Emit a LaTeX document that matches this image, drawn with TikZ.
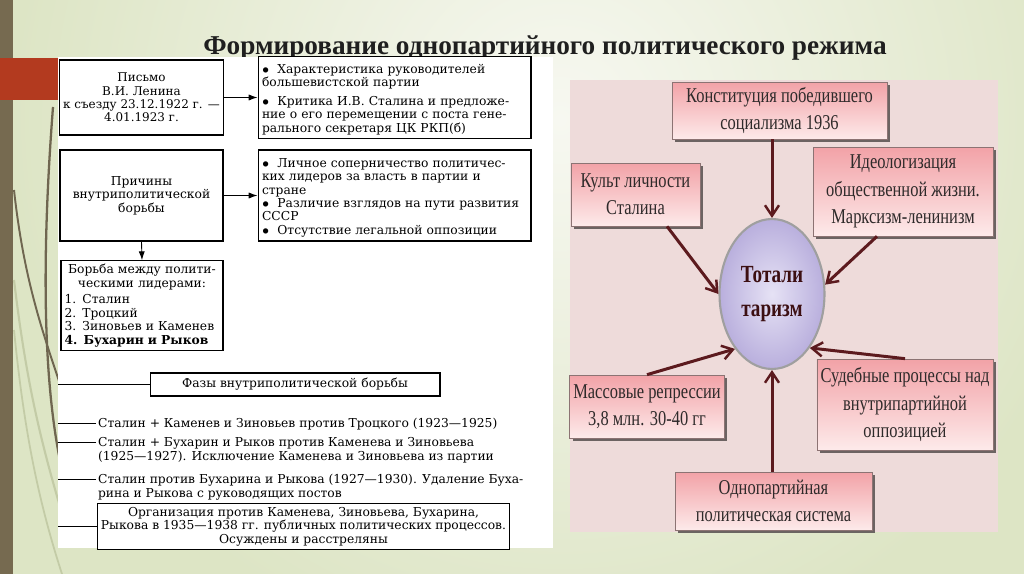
\documentclass[tikz,border=0pt]{standalone}
\usepackage{fontspec}
\setmainfont{Liberation Serif}
\newfontfamily\scanfont{DejaVu Serif}
\newfontfamily\slimfont[FakeStretch=0.78]{Liberation Serif}
\usetikzlibrary{arrows.meta, positioning, shapes.geometric, shadows}

\definecolor{bgbase}{HTML}{DDE5C5}
\definecolor{bglight}{HTML}{F7F8F1}
\definecolor{barbrown}{HTML}{766A50}
\definecolor{barred}{HTML}{B33A1F}
\definecolor{grassdark}{HTML}{6F6650}
\definecolor{grasslight}{HTML}{C3CBA6}
\definecolor{boardpink}{HTML}{EEDBDA}
\definecolor{boxtop}{HTML}{F2A2A7}
\definecolor{boxbottom}{HTML}{FDEAEA}
\definecolor{boxedge}{HTML}{8C7373}
\definecolor{shadowgray}{HTML}{5E5656}
\definecolor{textgray}{HTML}{2E2A2A}
\definecolor{arrowred}{HTML}{5C1A1E}
\definecolor{ovalinner}{HTML}{E6E2F5}
\definecolor{ovalouter}{HTML}{B9AFDD}
\definecolor{ovaltext}{HTML}{3C0F12}

\newcommand{\bitem}[2][0pt]{\par\vspace{#1}\noindent\hangindent=1.25em\hangafter=1%
  \makebox[1.25em][l]{$\bullet$}#2}

\begin{document}
\begin{tikzpicture}[
    x=0.02cm, y=-0.02cm,
    >=Latex,
    scanbox/.style={
        draw,
        line width=0.6pt,
        fill=white,
        inner sep=2pt,
        font=\scanfont\fontsize{7}{7.6}\selectfont
    },
    phasetext/.style={
        anchor=north west,
        align=left,
        inner sep=1pt,
        font=\scanfont\fontsize{7}{8}\selectfont
    },
    pinkbox/.style={
        draw=boxedge,
        line width=0.4pt,
        top color=boxtop,
        bottom color=boxbottom,
        align=center,
        inner sep=2pt,
        text=textgray,
        font=\slimfont\fontsize{12}{15.5}\selectfont,
        drop shadow={shadow xshift=1.8pt, shadow yshift=-1.8pt, fill=shadowgray, opacity=0.9}
    },
    arrow/.style={-{Latex[length=5pt, width=3.5pt]}, line width=0.5pt},
    rail/.style={line width=0.6pt},
    bigarrow/.style={-{Straight Barb[length=6pt, width=8pt, line width=1.4pt]}, line width=1.7pt, draw=arrowred}
]
\useasboundingbox (0,0) rectangle (1024,574);

% slide background
\begin{scope}
\clip (0,0) rectangle (1024,574);
\fill[bgbase] (0,0) rectangle (1024,574);
\shade[inner color=bglight, outer color=bgbase] (560,120) circle[radius=11cm];
\end{scope}
\fill[barbrown] (0,0) rectangle (13,574);
\draw[grasslight, line width=1.2pt] (14,280) .. controls (26,380) and (40,440) .. (64,520);
\draw[grasslight, line width=1pt] (14,330) .. controls (24,430) and (38,500) .. (62,574);
\draw[grassdark, line width=1.3pt] (53,107) .. controls (42,250) and (42,380) .. (62,470);
\draw[grassdark, line width=1.1pt] (14,190) .. controls (24,280) and (42,330) .. (62,390);
\fill[barred] (0,58) rectangle (113,100);

\node[font=\bfseries\fontsize{15.5}{17}\selectfont, text=black!88] (title) at (545,48)
    {Формирование однопартийного политического режима};

% left scheme
\node[fill=white, inner sep=0pt, anchor=north west, minimum width=9.9cm, minimum height=9.82cm] (scan) at (58,57) {};

\node[scanbox, minimum width=3.26cm, minimum height=1.5cm, align=center,
      font=\scanfont\fontsize{6.8}{7.6}\selectfont] (letter) at (141.5,97.5)
    {Письмо\\В.И. Ленина\\к съезду 23.12.1922 г. —\\4.01.1923 г.};
\node[scanbox, minimum width=5.46cm, minimum height=1.5cm, text width=5.3cm, align=left] (letterpts) at (394.5,97.5)
    {\bitem{Характеристика руководителей\\большевистской партии}%
     \bitem[3pt]{Критика И.В. Сталина и предложе-\\ние о его перемещении с поста гене-\\рального секретаря ЦК РКП(б)}};

\node[scanbox, minimum width=3.26cm, minimum height=1.82cm, align=center] (causes) at (141.5,195.5)
    {Причины\\внутриполитической\\борьбы};
\node[scanbox, minimum width=5.46cm, minimum height=1.82cm, text width=5.3cm, align=left] (causepts) at (394.5,195.5)
    {\bitem{Личное соперничество политичес-\\ких лидеров за власть в партии и\\стране}%
     \bitem{Различие взглядов на пути развития\\СССР}%
     \bitem{Отсутствие легальной оппозиции}};

\node[scanbox, minimum width=3.2cm, minimum height=1.7cm, text width=3.1cm, align=left] (rivals) at (142,305.5)
    {{\centering Борьба между полити-\\ческими лидерами:\par}\vspace{2pt}%
     1. Сталин\\2. Троцкий\\3. Зиновьев и Каменев\\\textbf{4. Бухарин и Рыков}};

\draw[arrow] (letter.east) -- (letterpts.west);
\draw[arrow] (causes.east) -- (causepts.west);
\draw[arrow] (causes.south) -- (rivals.north);

\node[scanbox, minimum width=5.8cm, minimum height=0.46cm] (phases) at (295,384.5)
    {Фазы внутриполитической борьбы};
\node[phasetext] (phaseA) at (96,416)
    {Сталин + Каменев и Зиновьев против Троцкого (1923—1925)};
\node[phasetext] (phaseB) at (96,435)
    {Сталин + Бухарин и Рыков против Каменева и Зиновьева\\(1925—1927). Исключение Каменева и Зиновьева из партии};
\node[phasetext] (phaseC) at (96,472)
    {Сталин против Бухарина и Рыкова (1927—1930). Удаление Буха-\\рина и Рыкова с руководящих постов};
\node[scanbox, minimum width=8.26cm, minimum height=0.86cm, align=center] (trials) at (303.5,526.5)
    {Организация против Каменева, Зиновьева, Бухарина,\\Рыкова в 1935—1938 гг. публичных политических процессов.\\Осуждены и расстреляны};

\draw[rail] (phases.west) -- (phases.west -| scan.west);
\draw[rail] ([yshift=-4pt]phaseA.north west) -- ([yshift=-4pt]phaseA.north west -| scan.west);
\draw[rail] ([yshift=-4pt]phaseB.north west) -- ([yshift=-4pt]phaseB.north west -| scan.west);
\draw[rail] ([yshift=-4pt]phaseC.north west) -- ([yshift=-4pt]phaseC.north west -| scan.west);
\draw[rail] (trials.west) -- (trials.west -| scan.west);

% right scheme
\node[fill=boardpink, inner sep=0pt, anchor=north west, minimum width=8.56cm, minimum height=9.04cm] (board) at (570,80) {};

\node[pinkbox, minimum width=4.3cm, minimum height=1.14cm] (konst) at (779.5,110.5)
    {Конституция победившего\\социализма 1936};
\node[pinkbox, minimum width=2.58cm, minimum height=1.26cm] (kult) at (635.5,194.5)
    {Культ личности\\Сталина};
\node[pinkbox, minimum width=3.6cm, minimum height=1.78cm] (ideol) at (903,191.5)
    {Идеологизация\\общественной жизни.\\Марксизм-ленинизм};
\node[pinkbox, minimum width=3.04cm, minimum height=1.26cm] (mass) at (647,406.5)
    {Массовые репрессии\\3,8 млн. 30-40 гг};
\node[pinkbox, minimum width=3.52cm, minimum height=1.82cm] (sud) at (905,404.5)
    {Судебные процессы над\\внутрипартийной\\оппозицией};
\node[pinkbox, minimum width=3.94cm, minimum height=1.16cm] (odno) at (773.5,501)
    {Однопартийная\\политическая система};

\node[ellipse, draw=gray!75, line width=1.2pt, inner color=ovalinner, outer color=ovalouter,
      minimum width=2cm, minimum height=3cm, align=center, text=ovaltext,
      font=\slimfont\bfseries\fontsize{14}{19}\selectfont] (total) at (772,294) {Тотали\\таризм};

\draw[bigarrow] (konst.south -| total.north) -- (total.north);
\draw[bigarrow] ([xshift=0.63cm]kult.south) -- (total.west);
\draw[bigarrow] ([xshift=-0.52cm]ideol.south) -- (total.10);
\draw[bigarrow] (mass.north) -- (total.236);
\draw[bigarrow] (sud.north) -- (total.305);
\draw[bigarrow] (odno.north -| total.south) -- (total.south);

\end{tikzpicture}
\end{document}
